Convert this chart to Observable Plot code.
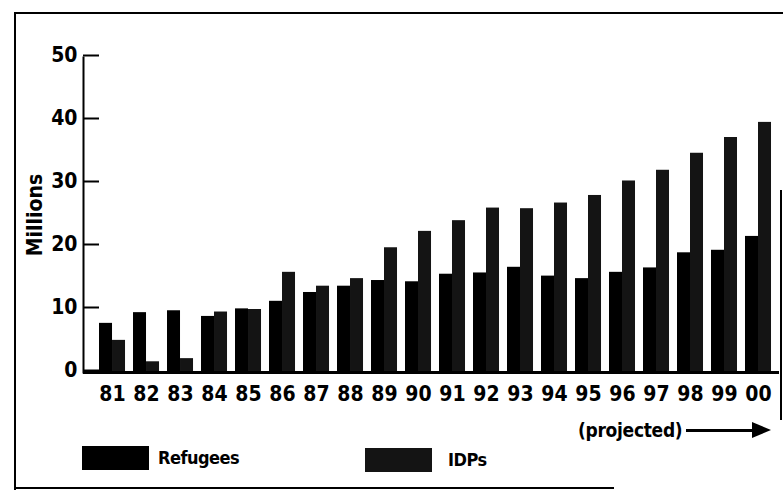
<!DOCTYPE html>
<html>
<head>
<meta charset="utf-8">
<script src="https://cdn.jsdelivr.net/npm/d3@7"></script>
<script src="https://cdn.jsdelivr.net/npm/@observablehq/plot@0.6"></script>
<style>
  body { margin: 0; background: #fff; }
  #wrap { position: relative; width: 783px; height: 500px; overflow: hidden; background: #fff;
    font-family: "Liberation Sans Narrow", "DejaVu Sans Condensed", "Arial Narrow", sans-serif; font-weight: bold; color: #000; }
  #chart { position: absolute; left: 0; top: 0; }
  .bl { position: absolute; background: #000; }
  .sw { position: absolute; }
  .lt { position: absolute; font-size: 18px; line-height: 24px; letter-spacing: -0.5px; }
  #proj { position: absolute; left: 578px; top: 418px; font-size: 19px; line-height: 24px; letter-spacing: -0.3px; }
  #arrowline { position: absolute; left: 686px; top: 429px; width: 66px; height: 3px; background: #000; }
  #arrowhead { position: absolute; left: 752px; top: 422px; width: 0; height: 0;
    border-top: 8px solid transparent; border-bottom: 8px solid transparent; border-left: 19px solid #000; }
</style>
</head>
<body>
<div id="wrap">
  <div id="chart"></div>
  <div class="bl" style="left:14px;top:12px;width:2px;height:478px"></div>
  <div class="bl" style="left:14px;top:12px;width:769px;height:2px"></div>
  <div class="bl" style="left:14px;top:487px;width:600px;height:2px"></div>
  <div class="bl" style="left:780px;top:190px;width:2px;height:230px"></div>
  <div id="proj">(projected)</div>
  <div id="arrowline"></div>
  <div id="arrowhead"></div>
  <div id="legend"></div>
</div>
<script>
const years = ["81","82","83","84","85","86","87","88","89","90","91","92","93","94","95","96","97","98","99","00"];
const refugees = [7.8, 9.5, 9.8, 8.9, 10.1, 11.3, 12.7, 13.7, 14.6, 14.4, 15.6, 15.8, 16.7, 15.3, 14.9, 15.9, 16.6, 19.0, 19.4, 21.6];
const idps = [5.1, 1.7, 2.2, 9.6, 10.0, 15.9, 13.7, 14.9, 19.8, 22.4, 24.1, 26.1, 26.0, 26.9, 28.1, 30.4, 32.1, 34.8, 37.3, 39.7];
const yTicks = [0, 10, 20, 30, 40, 50];
const seriesNames = ["Refugees", "IDPs"];
const seriesColors = ["#000000", "#141414"];

const table = years.map((year, i) => ({year, refugees: refugees[i], idps: idps[i]}));

const W = 783, H = 412, mL = 83, mR = 4, mT = 57, mB = 40;
const xOpts = {paddingInner: 0.235, paddingOuter: 0.353, align: 0.667};
const bw = d3.scaleBand(years, [mL, W - mR]).paddingInner(xOpts.paddingInner).paddingOuter(xOpts.paddingOuter).align(xOpts.align).bandwidth();

const font = '"Liberation Sans Narrow", "DejaVu Sans Condensed", "Arial Narrow", sans-serif';

const chart = Plot.plot({
  width: W, height: H,
  marginLeft: mL, marginRight: mR, marginTop: mT, marginBottom: mB,
  style: {fontFamily: font, fontWeight: "bold", color: "#000", background: "transparent", overflow: "visible"},
  x: {type: "band", domain: years, ...xOpts, round: false, axis: null},
  y: {domain: [0, 50], axis: null},
  marks: [
    Plot.barY(table, {x: "year", y: "refugees", fill: seriesColors[0], insetRight: bw / 2}),
    Plot.barY(table, {x: "year", y: "idps", fill: seriesColors[1], insetLeft: bw / 2}),
    Plot.axisX({tickSize: 0, tickPadding: 14, fontSize: 21, fill: "#000", label: null}),
    Plot.axisY({ticks: yTicks, tickSize: -16, tickPadding: 22, strokeWidth: 2, fontSize: 21, dy: -2, fill: "#000",
      label: "Millions", labelAnchor: "center", labelOffset: 56, labelArrow: "none"}),
    Plot.frame({anchor: "left", strokeWidth: 2}),
    Plot.ruleY([0], {strokeWidth: 3})
  ]
});
document.getElementById("chart").appendChild(chart);

// legend
const legend = document.getElementById("legend");
const swX = [82, 365], swY = [446, 448], txtX = [158, 448];
seriesNames.forEach((name, i) => {
  const sw = document.createElement("div");
  sw.className = "sw";
  sw.style.cssText = `left:${swX[i]}px;top:${swY[i]}px;width:67px;height:24px;background:${seriesColors[i]}`;
  legend.appendChild(sw);
  const t = document.createElement("div");
  t.className = "lt";
  t.style.cssText = `left:${txtX[i]}px;top:${swY[i]}px`;
  t.textContent = name;
  legend.appendChild(t);
});
</script>
</body>
</html>
